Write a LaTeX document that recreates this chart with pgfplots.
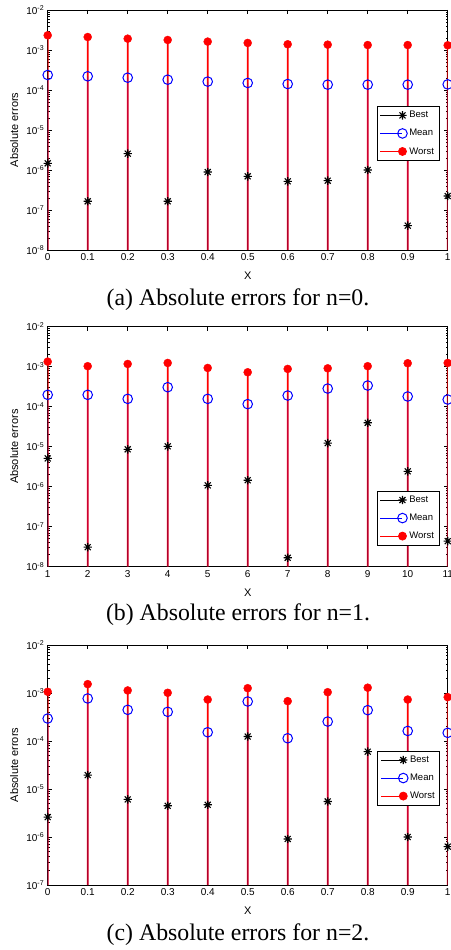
\documentclass[border=0pt]{standalone}
\usepackage{pgfplots}
\pgfplotsset{compat=1.18}
\usepackage{pgfplotstable}
\usepackage{fontspec}
\setmainfont{Liberation Sans}
\newfontfamily\capfont{Liberation Serif}

\pgfdeclareplotmark{mstar}{%
 \pgfpathmoveto{\pgfqpoint{-\pgfplotmarksize}{0pt}}\pgfpathlineto{\pgfqpoint{\pgfplotmarksize}{0pt}}%
 \pgfpathmoveto{\pgfqpoint{0pt}{-\pgfplotmarksize}}\pgfpathlineto{\pgfqpoint{0pt}{\pgfplotmarksize}}%
 \pgfpathmoveto{\pgfqpoint{-0.707\pgfplotmarksize}{-0.707\pgfplotmarksize}}\pgfpathlineto{\pgfqpoint{0.707\pgfplotmarksize}{0.707\pgfplotmarksize}}%
 \pgfpathmoveto{\pgfqpoint{-0.707\pgfplotmarksize}{0.707\pgfplotmarksize}}\pgfpathlineto{\pgfqpoint{0.707\pgfplotmarksize}{-0.707\pgfplotmarksize}}%
 \pgfusepathqstroke}

\pgfplotstableread{
x    best     mean     worst
0    1.47e-6  2.37e-4  2.33e-3
0.1  1.65e-7  2.20e-4  2.11e-3
0.2  2.56e-6  2.03e-4  1.92e-3
0.3  1.65e-7  1.81e-4  1.78e-3
0.4  8.9e-7   1.62e-4  1.62e-3
0.5  6.95e-7  1.50e-4  1.50e-3
0.6  5.2e-7   1.41e-4  1.39e-3
0.7  5.4e-7   1.36e-4  1.36e-3
0.8  1.0e-6   1.36e-4  1.33e-3
0.9  4.06e-8  1.36e-4  1.33e-3
1.0  2.24e-7  1.38e-4  1.31e-3
}\tabA

\pgfplotstableread{
x    best     mean     worst
1    5.1e-6   1.98e-4  1.34e-3
2    3.08e-8  1.98e-4  1.03e-3
3    8.6e-6   1.57e-4  1.17e-3
4    1.02e-5  3.07e-4  1.24e-3
5    1.08e-6  1.57e-4  9.3e-4
6    1.45e-6  1.16e-4  7.26e-4
7    1.67e-8  1.90e-4  8.8e-4
8    1.23e-5  2.84e-4  9.1e-4
9    3.96e-5  3.38e-4  1.03e-3
10   2.42e-6  1.80e-4  1.22e-3
11   4.35e-8  1.51e-4  1.24e-3
}\tabB

\pgfplotstableread{
x    best     mean     worst
0    2.6e-6   2.94e-4  1.06e-3
0.1  1.95e-5  7.7e-4   1.53e-3
0.2  6.07e-6  4.46e-4  1.13e-3
0.3  4.47e-6  4.05e-4  1.01e-3
0.4  4.69e-6  1.52e-4  7.3e-4
0.5  1.24e-4  6.65e-4  1.26e-3
0.6  9.1e-7   1.14e-4  6.76e-4
0.7  5.5e-6   2.54e-4  1.04e-3
0.8  6.0e-5   4.39e-4  1.29e-3
0.9  1.0e-6   1.62e-4  7.3e-4
1.0  6.3e-7   1.48e-4  8.2e-4
}\tabC

\pgfplotsset{
 stemaxis/.style={
  scale only axis, width=400pt, height=240pt,
  axis line style={black, line width=0.7pt},
  tick style={black, line width=0.6pt},
  major tick length=4pt, minor tick length=2pt,
  tick align=inside,
  tick label style={font=\fontsize{10}{11}\selectfont},
  label style={font=\fontsize{11}{12}\selectfont},
  xlabel={X}, ylabel={Absolute errors},
  xlabel style={at={(axis description cs:0.5,-0.108)},anchor=center},
  ylabel style={at={(axis description cs:-0.084,0.5)},anchor=center},
  legend cell align=left,
  legend style={draw=black, line width=0.8pt, fill=white,
    font=\fontsize{9.5}{10}\selectfont, row sep=6pt, inner sep=3pt},
 },
 bstem/.style={ybar, bar width=0.8pt, bar shift=0pt, fill=black, draw=none, fill opacity=0.2, forget plot},
 wstem/.style={ybar, bar width=1.8pt, bar shift=0pt, fill=red, draw=none, forget plot},
 mstem/.style={ybar, bar width=1.1pt, bar shift=0.2pt, fill=blue, draw=none, fill opacity=0.3, forget plot},
 bmark/.style={only marks, black, mark=mstar, mark size=4.2pt, line width=1.1pt, forget plot},
 mmark/.style={only marks, blue, mark=o, mark size=4.8pt, line width=1pt, forget plot},
 wmark/.style={only marks, red, mark=*, mark size=4pt, forget plot},
}

\begin{document}
\begin{tikzpicture}
\useasboundingbox (0,0) rectangle (450pt,950pt);

% Panel (a)
\begin{axis}[ymode=log, log origin y=infty, stemaxis, at={(47.7pt,700pt)}, anchor=south west,
  xmin=0, xmax=1, ymin=1e-8, ymax=1e-2,
  xtick={0,0.1,0.2,0.3,0.4,0.5,0.6,0.7,0.8,0.9,1},
  xticklabels={0,0.1,0.2,0.3,0.4,0.5,0.6,0.7,0.8,0.9,1},
  ytick={1e-8,1e-7,1e-6,1e-5,1e-4,1e-3,1e-2},
  yticklabels={10\textsuperscript{-8},10\textsuperscript{-7},10\textsuperscript{-6},10\textsuperscript{-5},10\textsuperscript{-4},10\textsuperscript{-3},10\textsuperscript{-2}},
  minor ytick={2e-8,3e-8,4e-8,5e-8,6e-8,7e-8,8e-8,9e-8,2e-7,3e-7,4e-7,5e-7,6e-7,7e-7,8e-7,9e-7,2e-6,3e-6,4e-6,5e-6,6e-6,7e-6,8e-6,9e-6,2e-5,3e-5,4e-5,5e-5,6e-5,7e-5,8e-5,9e-5,2e-4,3e-4,4e-4,5e-4,6e-4,7e-4,8e-4,9e-4,2e-3,3e-3,4e-3,5e-3,6e-3,7e-3,8e-3,9e-3},
  legend style={at={(0.979,0.6)},anchor=north east},
  legend image code/.code={\draw[#1,mark repeat=2,mark phase=2] plot coordinates {(0pt,0pt)(22pt,0pt)};},
]
\addplot[wstem] table[x=x,y=worst] {\tabA};
\addplot[mstem] table[x=x,y=mean] {\tabA};
\addplot[bstem] table[x=x,y=best] {\tabA};
\addplot[bmark] table[x=x,y=best] {\tabA};
\addplot[mmark] table[x=x,y=mean] {\tabA};
\addplot[wmark] table[x=x,y=worst] {\tabA};
\addlegendimage{black,line width=0.8pt,mark=mstar,mark size=4.2pt,mark options={line width=1.1pt}}
\addlegendentry{Best}
\addlegendimage{blue,line width=0.8pt,mark=o,mark size=4.8pt,mark options={line width=1pt}}
\addlegendentry{Mean}
\addlegendimage{red,line width=0.8pt,mark=*,mark size=4pt}
\addlegendentry{Worst}
\end{axis}
\node[font=\capfont\fontsize{23.8}{26}\selectfont] at (238pt,650pt) {(a) Absolute errors for n=0.};

% Panel (b)
\begin{axis}[ymode=log, log origin y=infty, stemaxis, at={(47.7pt,383.3pt)}, anchor=south west,
  xmin=1, xmax=11, ymin=1e-8, ymax=1e-2,
  xtick={1,2,3,4,5,6,7,8,9,10,11},
  xticklabels={1,2,3,4,5,6,7,8,9,10,11},
  ytick={1e-8,1e-7,1e-6,1e-5,1e-4,1e-3,1e-2},
  yticklabels={10\textsuperscript{-8},10\textsuperscript{-7},10\textsuperscript{-6},10\textsuperscript{-5},10\textsuperscript{-4},10\textsuperscript{-3},10\textsuperscript{-2}},
  minor ytick={2e-8,3e-8,4e-8,5e-8,6e-8,7e-8,8e-8,9e-8,2e-7,3e-7,4e-7,5e-7,6e-7,7e-7,8e-7,9e-7,2e-6,3e-6,4e-6,5e-6,6e-6,7e-6,8e-6,9e-6,2e-5,3e-5,4e-5,5e-5,6e-5,7e-5,8e-5,9e-5,2e-4,3e-4,4e-4,5e-4,6e-4,7e-4,8e-4,9e-4,2e-3,3e-3,4e-3,5e-3,6e-3,7e-3,8e-3,9e-3},
  legend style={at={(0.979,0.317)},anchor=north east},
  legend image code/.code={\draw[#1,mark repeat=2,mark phase=2] plot coordinates {(0pt,0pt)(22pt,0pt)};},
]
\addplot[wstem] table[x=x,y=worst] {\tabB};
\addplot[mstem] table[x=x,y=mean] {\tabB};
\addplot[bstem] table[x=x,y=best] {\tabB};
\addplot[bmark] table[x=x,y=best] {\tabB};
\addplot[mmark] table[x=x,y=mean] {\tabB};
\addplot[wmark] table[x=x,y=worst] {\tabB};
\addlegendimage{black,line width=0.8pt,mark=mstar,mark size=4.2pt,mark options={line width=1.1pt}}
\addlegendentry{Best}
\addlegendimage{blue,line width=0.8pt,mark=o,mark size=4.8pt,mark options={line width=1pt}}
\addlegendentry{Mean}
\addlegendimage{red,line width=0.8pt,mark=*,mark size=4pt}
\addlegendentry{Worst}
\end{axis}
\node[font=\capfont\fontsize{23.8}{26}\selectfont] at (238pt,335pt) {(b) Absolute errors for n=1.};

% Panel (c)
\begin{axis}[ymode=log, log origin y=infty, stemaxis, at={(47.7pt,65pt)}, anchor=south west,
  xmin=0, xmax=1, ymin=1e-7, ymax=1e-2,
  xtick={0,0.1,0.2,0.3,0.4,0.5,0.6,0.7,0.8,0.9,1},
  xticklabels={0,0.1,0.2,0.3,0.4,0.5,0.6,0.7,0.8,0.9,1},
  ytick={1e-7,1e-6,1e-5,1e-4,1e-3,1e-2},
  yticklabels={10\textsuperscript{-7},10\textsuperscript{-6},10\textsuperscript{-5},10\textsuperscript{-4},10\textsuperscript{-3},10\textsuperscript{-2}},
  minor ytick={2e-7,3e-7,4e-7,5e-7,6e-7,7e-7,8e-7,9e-7,2e-6,3e-6,4e-6,5e-6,6e-6,7e-6,8e-6,9e-6,2e-5,3e-5,4e-5,5e-5,6e-5,7e-5,8e-5,9e-5,2e-4,3e-4,4e-4,5e-4,6e-4,7e-4,8e-4,9e-4,2e-3,3e-3,4e-3,5e-3,6e-3,7e-3,8e-3,9e-3},
  legend style={at={(0.981,0.56)},anchor=north east},
  legend image code/.code={\draw[#1,mark repeat=2,mark phase=2] plot coordinates {(0pt,0pt)(22pt,0pt)};},
]
\addplot[wstem] table[x=x,y=worst] {\tabC};
\addplot[mstem] table[x=x,y=mean] {\tabC};
\addplot[bstem] table[x=x,y=best] {\tabC};
\addplot[bmark] table[x=x,y=best] {\tabC};
\addplot[mmark] table[x=x,y=mean] {\tabC};
\addplot[wmark] table[x=x,y=worst] {\tabC};
\addlegendimage{black,line width=0.8pt,mark=mstar,mark size=4.2pt,mark options={line width=1.1pt}}
\addlegendentry{Best}
\addlegendimage{blue,line width=0.8pt,mark=o,mark size=4.8pt,mark options={line width=1pt}}
\addlegendentry{Mean}
\addlegendimage{red,line width=0.8pt,mark=*,mark size=4pt}
\addlegendentry{Worst}
\end{axis}
\node[font=\capfont\fontsize{23.8}{26}\selectfont] at (238pt,15pt) {(c) Absolute errors for n=2.};
\end{tikzpicture}
\end{document}
